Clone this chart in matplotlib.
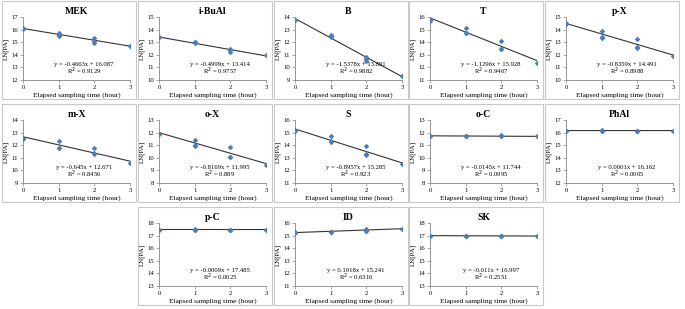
import matplotlib
matplotlib.use('Agg')
import matplotlib.pyplot as plt
from matplotlib.patches import Rectangle
import numpy as np

plt.rcParams['font.family'] = ['Liberation Serif', 'DejaVu Serif']

# compound names, panel order left-to-right, top-to-bottom
names = ['MEK', 'i-BuAl', 'B', 'T', 'p-X',
         'm-X', 'o-X', 'S', 'o-C', 'PhAl',
         'p-C', 'ID', 'SK']

# y-axis ranges (min, max)
ylims = [(12, 17), (10, 15), (9, 14), (11, 16), (10, 15),
         (9, 14), (8, 13), (11, 16), (8, 13), (12, 17),
         (13, 18), (11, 16), (13, 18)]

# sampling times and LN[PA] replicates for each compound
times = [0, 0, 1, 1, 1, 2, 2, 2, 3]
mek = [16.1, 16.05, 15.7, 15.6, 15.5, 15.35, 15.1, 14.95, 14.7]
ibual = [13.4, 13.38, 13.0, 12.95, 12.98, 12.45, 12.35, 12.25, 11.95]
benz = [13.8, 13.78, 12.6, 12.4, 12.5, 10.8, 10.5, 10.7, 9.35]
tol = [15.8, 15.7, 15.1, 14.7, 14.75, 14.1, 13.45, 13.5, 12.35]
px = [14.5, 14.45, 13.9, 13.35, 13.4, 13.25, 12.55, 12.6, 11.9]
mx = [12.6, 12.5, 12.35, 11.75, 11.8, 11.8, 11.3, 11.35, 10.55]
ox = [11.9, 11.88, 11.45, 10.95, 11.0, 10.85, 10.05, 10.1, 9.4]
sty = [15.2, 15.1, 14.7, 14.25, 14.3, 13.9, 13.25, 13.3, 12.5]
oc = [11.75, 11.74, 11.76, 11.75, 11.74, 11.8, 11.7, 11.75, 11.7]
phal = [16.16, 16.16, 16.17, 16.16, 16.16, 16.16, 16.15, 16.16, 16.16]
pc = [17.48, 17.48, 17.48, 17.49, 17.48, 17.48, 17.47, 17.48, 17.48]
iden = [15.25, 15.24, 15.3, 15.32, 15.31, 15.5, 15.35, 15.4, 15.55]
sk = [17.0, 17.0, 17.0, 16.99, 17.0, 17.0, 16.98, 16.99, 16.97]
values = [mek, ibual, benz, tol, px, mx, ox, sty, oc, phal, pc, iden, sk]

# trendline fits as printed on each panel
slopes = [-0.4663, -0.4999, -1.5378, -1.1296, -0.8359,
          -0.645, -0.8169, -0.8957, -0.0145, 0.0001,
          -0.0009, 0.1018, -0.011]
intercepts = [16.087, 13.414, 13.881, 15.928, 14.491,
              12.671, 11.995, 15.285, 11.744, 16.162,
              17.485, 15.241, 16.997]
slope_txt = ['-0.4663', '-0.4999', '-1.5378', '-1.1296', '-0.8359',
             '-0.645', '-0.8169', '-0.8957', '-0.0145', '0.0001',
             '-0.0009', '0.1018', '-0.011']
icpt_txt = ['16.087', '13.414', '13.881', '15.928', '14.491',
            '12.671', '11.995', '15.285', '11.744', '16.162',
            '17.485', '15.241', '16.997']
r2_txt = ['0.9129', '0.9757', '0.9882', '0.9467', '0.8988',
          '0.8456', '0.889', '0.923', '0.0995', '0.0005',
          '0.0025', '0.6316', '0.2551']

W, H = 685, 309
fig = plt.figure(figsize=(W / 100, H / 100), dpi=100)

col_x = [2, 138, 274, 409, 545]
row_y = [1, 104, 207]
pw, ph = 134, 98
slots = [(r, c) for r in range(2) for c in range(5)] + [(2, 1), (2, 2), (2, 3)]

for i, name in enumerate(names):
    r, c = slots[i]
    px0, py0 = col_x[c], row_y[r]
    # panel frame
    fig.patches.append(Rectangle((px0 / W, 1 - (py0 + ph) / H), pw / W, ph / H,
                                 transform=fig.transFigure, fill=False,
                                 edgecolor='#c8c8c8', linewidth=0.8))
    left, right, top, bottom = 21, 6, 16, 19
    ax = fig.add_axes([(px0 + left) / W, 1 - (py0 + ph - bottom) / H,
                       (pw - left - right) / W, (ph - top - bottom) / H])

    x = np.array(times)
    ax.plot([0, 3], [intercepts[i], intercepts[i] + 3 * slopes[i]],
            color='#333333', linewidth=0.8, zorder=2)
    ax.scatter(x, values[i], marker='D', s=8, color='#4a7ebb', zorder=3,
               linewidths=0)

    ax.set_xlim(0, 3)
    ax.set_ylim(*ylims[i])
    ax.set_xticks([0, 1, 2, 3])
    ax.set_yticks(range(ylims[i][0], ylims[i][1] + 1))
    for s in ['top', 'right']:
        ax.spines[s].set_visible(False)
    for s in ['left', 'bottom']:
        ax.spines[s].set_color('#868686')
        ax.spines[s].set_linewidth(0.6)
    ax.tick_params(labelsize=4.8, length=2, width=0.5, color='#868686', pad=1.5)
    ax.set_xlabel('Elapsed sampling time (hour)', fontsize=5.3, labelpad=1.5)
    ax.set_ylabel('LN[PA]', fontsize=5, labelpad=1.5)
    ax.set_title(name, fontsize=7, fontweight='bold', pad=2)
    ax.text(0.57, 0.25, 'y = %sx + %s' % (slope_txt[i], icpt_txt[i]),
            transform=ax.transAxes, ha='center', va='center', fontsize=4.8)
    ax.text(0.57, 0.13, 'R$^2$ = %s' % r2_txt[i],
            transform=ax.transAxes, ha='center', va='center', fontsize=4.8)

fig.savefig('out.png', dpi=100)
